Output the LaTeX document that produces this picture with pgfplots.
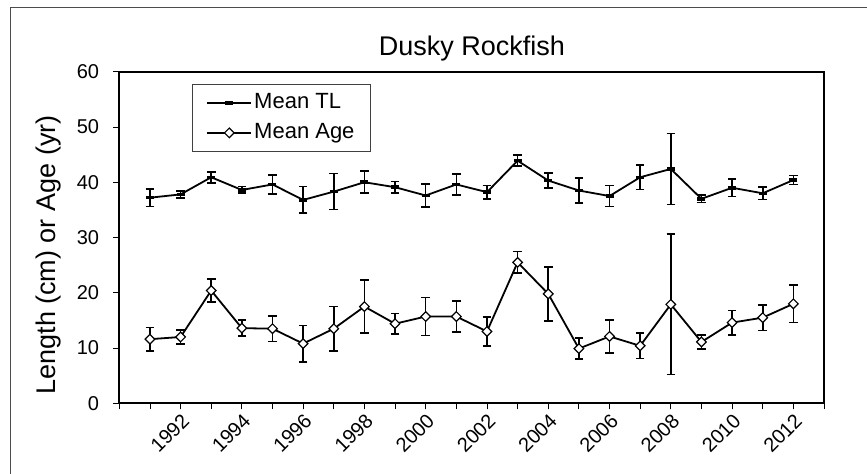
\documentclass[border=0pt]{standalone}
\usepackage{fontspec}
\setmainfont{Liberation Sans}
\usepackage{pgfplots}
\pgfplotsset{compat=1.18}
\usepackage{pgfplotstable}

\pgfplotstableread{
year tl tlerr age ageerr
1991 37.2 1.6 11.6 2.1
1992 37.8 0.6 12.0 1.3
1993 40.9 1.0 20.4 2.05
1994 38.6 0.6 13.6 1.45
1995 39.6 1.7 13.5 2.35
1996 36.8 2.4 10.8 3.3
1997 38.3 3.25 13.5 4.0
1998 40.0 2.0 17.5 4.8
1999 39.1 1.05 14.4 1.85
2000 37.6 2.1 15.7 3.45
2001 39.6 1.9 15.7 2.8
2002 38.2 1.2 13.0 2.65
2003 43.9 1.0 25.5 1.95
2004 40.3 1.35 19.8 4.9
2005 38.5 2.3 9.9 1.9
2006 37.5 1.9 12.1 3.0
2007 40.9 2.2 10.4 2.3
2008 42.4 6.4 17.9 12.7
2009 37.0 0.65 11.1 1.25
2010 39.0 1.6 14.6 2.2
2011 38.0 1.15 15.5 2.3
2012 40.4 0.8 18.0 3.4
}\data

\begin{document}
\begin{tikzpicture}
\begin{axis}[
  at={(0,0)}, anchor=south west,
  scale only axis, width=704.7bp, height=331.6bp,
  xmin=1990, xmax=2013, ymin=0, ymax=60,
  xtick={1992,1994,...,2012},
  xticklabels={1992,1994,1996,1998,2000,2002,2004,2006,2008,2010,2012},
  minor xtick={1990,...,2013},
  ytick={0,10,...,60},
  tick align=outside, xtick pos=bottom, ytick pos=left,
  major tick length=6bp, minor tick length=6bp,
  tick style={black, line width=0.8bp},
  axis line style={line width=2.2bp},
  tick label style={font=\fontsize{20bp}{23bp}\selectfont},
  /pgf/number format/assume math mode=true,
  xticklabel style={rotate=45, anchor=north east, inner sep=2bp},
  yticklabel style={inner sep=0pt, xshift=-14bp},
  legend cell align=left,
  legend image code/.code={\draw[mark repeat=2,mark phase=2] plot coordinates {(0bp,0bp)(22bp,0bp)(44bp,0bp)};},
  legend style={at={(0.1032,0.963)}, anchor=north west, draw=black!75, line width=0.8bp,
    font=\fontsize{22bp}{24bp}\selectfont, inner xsep=14bp, inner ysep=6bp,
    row sep=5bp,
    nodes={inner sep=2bp, text height=16bp, text depth=5bp},
    /tikz/every even column/.append style={column sep=8bp}},
]
\addplot[black, line width=1.8bp, mark=-, mark size=4bp, mark options={line width=3.5bp, solid},
  error bars/.cd, y dir=both, y explicit,
  error bar style={line width=1.6bp, black},
  error mark options={rotate=90, mark size=4.3bp, line width=1.6bp, black}]
  table[x=year, y=tl, y error=tlerr] {\data};
\addlegendentry{Mean TL}
\addplot[black, line width=1.8bp, mark=square*, mark size=3.4bp, mark options={rotate=45, fill=white, line width=1.2bp, solid},
  error bars/.cd, y dir=both, y explicit,
  error bar style={line width=1.6bp, black},
  error mark options={rotate=90, mark size=4.3bp, line width=1.6bp, black}]
  table[x=year, y=age, y error=ageerr] {\data};
\addlegendentry{Mean Age}
\end{axis}
\node[anchor=base, font=\fontsize{27bp}{30bp}\selectfont] at (352.7bp,347.3bp) {Dusky Rockfish};
\node[rotate=90, font=\fontsize{27bp}{30bp}\selectfont] at (-70.3bp,148.3bp) {Length (cm) or Age (yr)};
\draw[black!70, line width=0.8bp] (-109.3bp,-70.7bp) -- (-109.3bp,395.8bp) -- (747.7bp,395.8bp);
\pgfresetboundingbox
\useasboundingbox (-119.3bp,-70.7bp) rectangle (747.7bp,403.3bp);
\end{tikzpicture}
\end{document}
